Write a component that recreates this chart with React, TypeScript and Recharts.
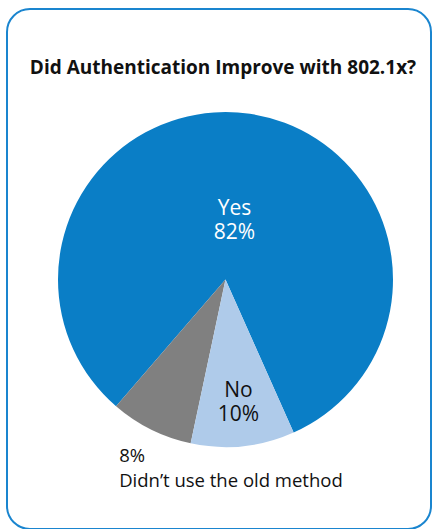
import { PieChart, Pie, Cell } from "recharts";

const categories = ["Yes", "Didn\u2019t use the old method", "No"];
const shares = [82, 8, 10];
const colors = ["#0a7ec6", "#808080", "#afcbea"];

const title = "Did Authentication Improve with 802.1x?";
const font = "'Open Sans', sans-serif";

const data = categories.map((name, i) => ({ name, value: shares[i] }));

const RAD = Math.PI / 180;

function SliceLabel(props: any) {
  const { cx, cy, midAngle, outerRadius, index } = props;
  const cos = Math.cos(-midAngle * RAD);
  const sin = Math.sin(-midAngle * RAD);
  const name = data[index].name;
  const pct = `${data[index].value}%`;

  if (index === 0) {
    // inside, upper part of the big slice
    const r = outerRadius * 0.37;
    const x = cx + r * cos;
    const y = cy + r * sin;
    return (
      <g>
        <text x={x} y={y - 3} textAnchor="middle" fill="#fff" fontFamily={font} fontSize={21}>
          {name}
        </text>
        <text x={x} y={y + 20.5} textAnchor="middle" fill="#fff" fontFamily={font} fontSize={21}>
          {pct}
        </text>
      </g>
    );
  }
  if (index === 2) {
    const r = outerRadius * 0.74;
    const x = cx + r * cos;
    const y = cy + r * sin;
    return (
      <g>
        <text x={x} y={y - 6} textAnchor="middle" fill="#111" fontFamily={font} fontSize={21}>
          {name}
        </text>
        <text x={x} y={y + 18.5} textAnchor="middle" fill="#111" fontFamily={font} fontSize={21}>
          {pct}
        </text>
      </g>
    );
  }
  // outside label for the grey slice
  const r = outerRadius + 20;
  const x = cx + r * cos - 23;
  const y = cy + r * sin + 15;
  return (
    <g>
      <text x={x} y={y} textAnchor="start" fill="#111" fontFamily={font} fontSize={18.5}>
        {pct}
      </text>
      <text x={x} y={y + 24.7} textAnchor="start" fill="#111" fontFamily={font} fontSize={18.5}>
        {name}
      </text>
    </g>
  );
}

export default function App() {
  return (
    <div
      style={{
        position: "absolute",
        left: 0,
        top: 0,
        width: 432,
        height: 529,
        background: "#fff",
        overflow: "hidden",
      }}
    >
      <div
        style={{
          position: "absolute",
          left: 6,
          top: 8,
          width: 426,
          height: 522,
          boxSizing: "border-box",
          border: "2.5px solid #1a85cf",
          borderRadius: 24,
        }}
      />
      <PieChart width={432} height={529} style={{ position: "absolute", left: 0, top: 0 }}>
        <Pie
          data={data}
          dataKey="value"
          nameKey="name"
          cx={220.5}
          cy={274.5}
          outerRadius={167.5}
          startAngle={294}
          endAngle={654}
          stroke="none"
          labelLine={false}
          label={SliceLabel}
          isAnimationActive={false}
        >
          {data.map((d, i) => (
            <Cell key={d.name} fill={colors[i]} />
          ))}
        </Pie>
      </PieChart>
      <svg width={432} height={529} style={{ position: "absolute", left: 0, top: 0, pointerEvents: "none" }}>
        <text
          x={223}
          y={73.5}
          textAnchor="middle"
          fontFamily={font}
          fontWeight={700}
          fontSize={19}
          fill="#111"
        >
          {title}
        </text>
      </svg>
    </div>
  );
}
